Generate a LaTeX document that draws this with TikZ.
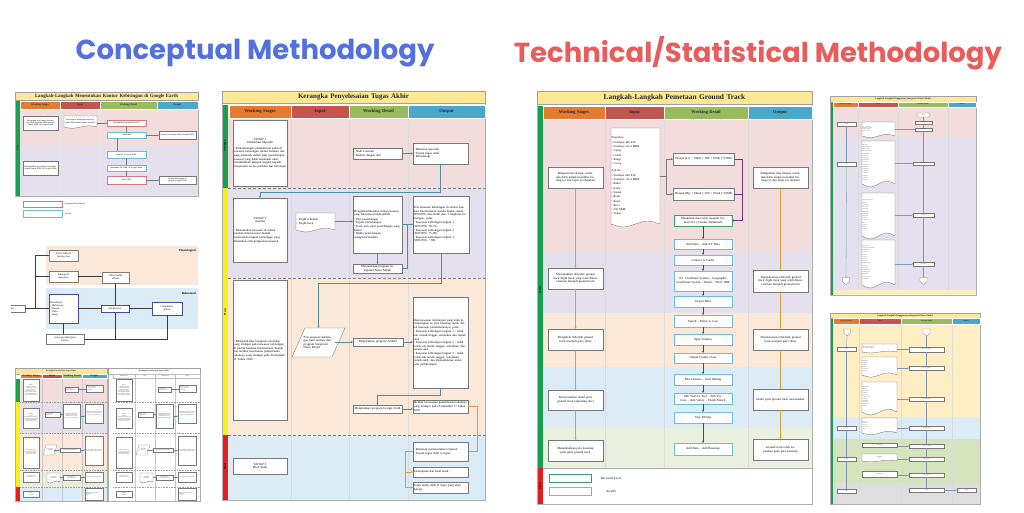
\documentclass[tikz,border=0pt]{standalone}
\usepackage{fontspec}
\setmainfont{Liberation Serif}
\newfontfamily\titlefont{Poppins}
\usetikzlibrary{arrows.meta,calc}
\definecolor{tblue}{RGB}{84,112,222}
\definecolor{tred}{RGB}{232,92,92}
\definecolor{hor}{RGB}{230,122,48}
\definecolor{hred}{RGB}{196,84,78}
\definecolor{hgreen}{RGB}{152,188,92}
\definecolor{hblue}{RGB}{74,168,200}
\definecolor{tbarc}{RGB}{254,232,150}
\definecolor{sgreen}{RGB}{24,160,82}
\definecolor{syellow}{RGB}{250,240,20}
\definecolor{sred}{RGB}{230,30,30}
\definecolor{bpink}{RGB}{243,221,220}
\definecolor{blav}{RGB}{228,224,238}
\definecolor{bpeach}{RGB}{252,232,216}
\definecolor{bblue}{RGB}{220,236,246}
\definecolor{bgreen}{RGB}{233,240,222}
\definecolor{bgreenb}{RGB}{214,228,190}
\definecolor{byellow}{RGB}{255,238,196}
\definecolor{bgray}{RGB}{222,222,222}
\definecolor{gline}{RGB}{120,120,120}
\definecolor{cyanb}{RGB}{110,190,210}
\definecolor{pinkb}{RGB}{214,120,130}
\definecolor{greenb}{RGB}{60,160,110}
\definecolor{oline}{RGB}{215,160,60}
\definecolor{tealline}{RGB}{80,140,160}
\definecolor{purline}{RGB}{120,50,120}
\definecolor{dblue}{RGB}{40,80,130}
\newcommand\hfont{}
\newcommand\szA{\fontsize{2.1}{2.4}\selectfont}
\newcommand\szB{\fontsize{2.6}{3}\selectfont}
\newcommand\szE{\fontsize{3.1}{3.6}\selectfont}
\newcommand\szF{\fontsize{3.1}{3.7}\selectfont}
\newcommand\szT{\fontsize{1.1}{1.3}\selectfont}
\tikzset{
 wb/.style={draw=gline,fill=white,line width=0.35pt,inner sep=0pt,outer sep=0pt,align=center},
 hdr/.style={draw=white,line width=0.3pt,inner sep=0pt,outer sep=0pt,align=center,text=black!85,font=\bfseries\hfont},
 tbar/.style={draw=gline!70,fill=tbarc,line width=0.3pt,inner sep=0pt,outer sep=0pt,align=center,text=black!85},
 arr/.style={-{Stealth[length=2.2pt,width=2pt]},line width=0.6pt},
 arrs/.style={-{Stealth[length=1.1pt,width=1.1pt]},line width=0.3pt},
 tl/.style={draw=tealline,line width=0.9pt},
 lab/.style={inner sep=0pt,outer sep=0pt},
}
\newcommand\bx[7]{%
 \pgfmathsetmacro\bxw{#4-#2}\pgfmathsetmacro\bxh{#5-#3}%
 \pgfmathsetmacro\bxcx{(#2+#4)/2}\pgfmathsetmacro\bxcy{(#3+#5)/2}%
 \pgfmathsetmacro\bxtw{max(#4-#2-1.4,0.5)}%
 \node[#6,minimum width=\bxw pt,minimum height=\bxh pt,text width=\bxtw pt] (#1) at (\bxcx,\bxcy) {#7};}
\newcommand\dbx[7]{%
 \pgfmathsetmacro\dw{#4-#2}\pgfmathsetmacro\dh{#5-#3}\pgfmathsetmacro\dmx{(#2+#4)/2}%
 \pgfmathsetmacro\da{min(2.5,0.1*\dh)}\pgfmathsetmacro\dq{0.25*\dw}%
 \filldraw[draw=gline,fill=white,line width=0.35pt] (#2,#3) -- (#4,#3) -- (#4,#5) .. controls +(-\dq,-1.6*\da) and +(\dq,-1.6*\da) .. (\dmx,#5) .. controls +(-\dq,1.6*\da) and +(\dq,1.6*\da) .. (#2,#5) -- cycle;
 \bx{#1}{#2}{#3}{#4}{#5}{wb,draw=none,fill=none,#6}{#7}}
\newcommand\hdrrow[8]{%
 \bx{#1h1}{#4}{#2}{#5}{#3}{hdr,fill=hor}{Working Stages}
 \bx{#1h2}{#5}{#2}{#6}{#3}{hdr,fill=hred}{Input}
 \bx{#1h3}{#6}{#2}{#7}{#3}{hdr,fill=hgreen}{Working Detail}
 \bx{#1h4}{#7}{#2}{#8}{#3}{hdr,fill=hblue}{Output}}
\newcommand\cA{bpink}\newcommand\cB{blav}\newcommand\cC{bpeach}\newcommand\cD{bgreen}\newcommand\cE{bblue}
\newcommand\hA{hor}\newcommand\hB{hred}\newcommand\hC{hgreen}\newcommand\hD{hblue}\newcommand\hdd{white}
\newcommand\sA{sgreen}\newcommand\sB{syellow}\newcommand\sC{sred}\newcommand\tA{tbarc}
\newcommand\miniK[2]{%
\begin{scope}[xshift=#1]
\fill[\cA] (20,378.5) rectangle (107,402);
\fill[\cB] (20,402) rectangle (107,433);
\fill[\cC] (20,433) rectangle (107,470);
\fill[\cD] (20,470) rectangle (107,487);
\fill[\cE] (20,487) rectangle (107,501);
\foreach \x in {42,62,82} \draw[gline!40,line width=0.25pt] (\x,378.5) -- (\x,501);
\foreach \y in {402,433,470,487} \draw[gline!70,line width=0.3pt,dash pattern=on 1pt off 0.6pt] (20,\y) -- (107,\y);
\fill[\sA] (15,378.5) rectangle (20,402);
\fill[\sB] (15,402) rectangle (20,487);
\fill[\sC] (15,487) rectangle (20,501);
\draw[gline!60,line width=0.3pt] (15,368) rectangle (107,501);
\bx{#2T}{15}{368}{107}{374}{tbar,fill=\tA,font=\bfseries\fontsize{1.9}{2.1}\selectfont}{Kerangka Penyelesaian Tugas Akhir}
\bx{#2h1}{20}{374}{42}{378.5}{hdr,draw=\hdd,fill=\hA}{Working Stages}
\bx{#2h2}{42}{374}{62}{378.5}{hdr,draw=\hdd,fill=\hB}{Input}
\bx{#2h3}{62}{374}{82}{378.5}{hdr,draw=\hdd,fill=\hC}{Working Detail}
\bx{#2h4}{82}{374}{107}{378.5}{hdr,draw=\hdd,fill=\hD}{Output}
\bx{#2S1}{23}{379.5}{39}{401}{wb,line width=0.2pt,font=\szT}{TAHAP 1\\Identifikasi Masalah\\[0.5pt]• Perkembangan permukiman padat di kawasan kebisingan sekitar bandara yang tidak terkendali akan menimbulkan dampak negatif kepada masyarakat}
\bx{#2W1}{65}{387}{78}{392}{wb,line width=0.2pt,font=\szT,align=left}{• Studi Literatur\\• Diskusi dengan ahli}
\bx{#2O1}{86}{385}{103}{392}{wb,line width=0.2pt,font=\szT,align=left}{• Rumusan masalah\\• Tujuan tugas akhir\\• Metodologi}
\bx{#2S2}{23}{408}{39}{428}{wb,line width=0.2pt,font=\szT}{TAHAP 2\\Analisis\\[0.5pt]• Menentukan kawasan di sekitar bandara berdasarkan tingkat kebisingan yang dihasilkan oleh pergerakan pesawat}
\dbx{#2I1}{45}{412}{60}{417}{font=\szT,align=left}{• Flight schedule\\• Flight track}
\bx{#2W2}{63}{404}{80}{428}{wb,line width=0.2pt,font=\szT}{Mengidentifikasikan setiap pesawat yang beroperasi berdasarkan tipe, tujuan, track dan waktu penerbangan}
\bx{#2O2}{85}{404}{103}{423}{wb,line width=0.2pt,font=\szT}{Peta kawasan kebisingan di sekitar bandara dalam satuan WECPNL dengan 3 tingkatan kebisingan}
\bx{#2S3}{23}{437}{39}{468}{wb,line width=0.2pt,font=\szT}{• Mengolah data bangunan eksisting yang terdapat pada kawasan kebisingan di sekitar bandara}
\filldraw[draw=gline,fill=white,line width=0.2pt] (46,445) -- (57,445) -- (54,455) -- (43,455) -- cycle;
\bx{#2P}{46}{446}{54}{454}{lab,font=\szT,align=center}{Peta kawasan kebisingan}
\bx{#2W4}{60}{448}{80}{452}{wb,line width=0.2pt,font=\szT}{Menjalankan program ArcGIS}
\bx{#2O3}{85}{436}{103}{465}{wb,line width=0.2pt,font=\szT}{Data kawasan kebisingan yang telah ditumpangkan ke peta basemap}
\bx{#2S4}{23}{472}{39}{482}{wb,line width=0.2pt,font=\szT}{• Melihat kesesuaian pemanfaatan lahan}
\dbx{#2W5}{47}{473}{60}{482}{font=\szT}{Permenhub 11 Tahun 2010}
\bx{#2W6}{63}{475}{80}{480}{wb,line width=0.2pt,font=\szT}{Menjalankan program Google Earth}
\bx{#2O4}{85}{472}{103}{482}{wb,line width=0.2pt,font=\szT}{Kesesuaian pemanfaatan lahan}
\bx{#2S5}{23}{491}{39}{497}{wb,line width=0.2pt,font=\szT}{TAHAP 3\\Hasil Studi}
\bx{#2O5}{85}{488}{103}{500}{wb,line width=0.2pt,font=\szT,align=left}{• Rumusan masalah terjawab\\• Kesimpulan\\• Saran}
\draw[arrs,tealline] (#2W1.east) -- (#2W1.east -| #2O1.west);
\draw[arrs,tealline] (#2I1.east) -- (#2I1.east -| #2W2.west);
\draw[arrs,tealline] (#2W2.east) -- (#2W2.east -| #2O2.west);
\draw[arrs,tealline] (#2P.east) -- (#2W4.west);
\draw[arrs,tealline] (#2W4.east) -- (#2W4.east -| #2O3.west);
\draw[arrs,tealline] (#2W5.east |- #2W6) -- (#2W6.west);
\draw[arrs,tealline] (#2W6.east) -- (#2W6.east -| #2O4.west);
\end{scope}}
\begin{document}
\begin{tikzpicture}[x=1pt,y=-1pt]
\useasboundingbox (0,0) rectangle (1024,512);
\fill[white] (0,0) rectangle (1024,512);
% ===== titles =====
\node[lab,font=\titlefont\bfseries\fontsize{27.5}{31}\selectfont,text=tblue] (t1) at (255,53) {Conceptual Methodology};
\node[lab,font=\titlefont\bfseries\fontsize{27.5}{31}\selectfont,text=tred] (t2) at (758,53) {Technical/Statistical Methodology};
% ===== A =====
\fill[bpink] (20,109) rectangle (198,146);
\fill[blav] (20,146) rectangle (198,196);
\foreach \x in {60,100,157} \draw[white!80!gray,line width=0.3pt] (\x,109) -- (\x,196);
\fill[sgreen] (15,101) rectangle (20,196);
\draw[gline!60,line width=0.3pt] (15,92) rectangle (198,196);
\renewcommand\hfont{\fontsize{2.6}{3}\selectfont}
\bx{aT}{15}{92}{198}{100}{tbar,font=\bfseries\fontsize{4.8}{5.2}\selectfont}{Langkah-Langkah Menentukan Kontur Kebisingan di Google Earth}
\hdrrow{a}{101}{109}{20}{60}{100}{157}{198}
\node[lab,rotate=90,font=\bfseries\fontsize{1.8}{2}\selectfont] (aP) at (17.5,148) {Proses};
\bx{aS1}{23}{116}{58}{130}{wb,font=\szA}{Mengubah peta kontur kebisingan hasil program INM menjadi format KML di Google Earth}
\dbx{aI1}{64}{116}{97}{127}{font=\szA}{Peta kontur kebisingan hasil program INM dalam format shapefile}
\bx{aW1}{107}{120}{146}{126}{wb,draw=pinkb,font=\szA}{Menjalankan program ArcGIS}
\bx{aW2}{107}{132}{146}{138}{wb,draw=cyanb,font=\szA}{Add Data}
\bx{aO1}{159}{131}{196}{139}{wb,font=\szA}{Kontur kebisingan dalam format KML}
\bx{aW3}{107}{151}{146}{158}{wb,draw=cyanb,font=\szA}{Search – Layer to KML}
\bx{aS2}{23}{161}{58}{175}{wb,font=\szA}{Menampilkan peta kontur kebisingan dalam format KML di Google Earth}
\bx{aW4}{107}{165}{146}{171}{wb,draw=cyanb,font=\szA}{Membuka file KML di Google Earth}
\bx{aW5}{107}{176}{146}{184}{wb,draw=pinkb,font=\szA}{Save KML}
\bx{aO2}{159}{176}{196}{184}{wb,font=\szA}{Kontur kebisingan di wilayah Google Earth}
\draw[arrs,gline] (aI1.east |- aW1) -- (aW1.west);
\draw[arrs,gline] (aW1.south) -- (aW2.north);
\draw[arrs,gline] (aW2.east) -- (aW2.east -| aO1.west);
\draw[arrs,gline] ([xshift=-9pt]aW2.south) -- ([xshift=-9pt]aW3.north);
\draw[arrs,gline] (aW3.south) -- (aW4.north);
\draw[arrs,gline] (aW4.south) -- (aW5.north);
\draw[arrs,gline] (aW5.east) -- (aO2.west);
\bx{aL1}{23}{201}{62}{207}{wb,draw=pinkb}{}
\node[lab,anchor=west,font=\szA] (aLt1) at (65,204) {Integrated Noise Model};
\bx{aL2}{23}{210}{62}{217}{wb,draw=cyanb}{}
\node[lab,anchor=west,font=\szA] (aLt2) at (65,213.5) {ArcGIS};
% ===== B =====
\fill[bpeach] (46,246) rectangle (198,285);
\fill[bblue] (46,288) rectangle (198,329);
\node[lab,anchor=east,font=\bfseries\fontsize{3}{3.4}\selectfont] (bPh) at (196,251) {Physiological};
\node[lab,anchor=east,font=\bfseries\fontsize{3}{3.4}\selectfont] (bBe) at (196,293) {Behavioral};
\begin{scope}
\clip (11,300) rectangle (30,316);
\bx{bN}{-2}{305}{25}{312}{wb,font=\szB}{Noise}
\end{scope}
\bx{bH}{49}{250}{78}{261}{wb,draw=gline!80!brown,font=\szB}{Noise induced\\hearing loss}
\bx{bB}{49}{271}{78}{282}{wb,draw=gline!80!brown,font=\szB}{Biological\\responses}
\bx{bO}{102}{272}{129}{283}{wb,draw=gline!80!brown,font=\szB}{Other health\\effects}
\bx{bD}{49}{294}{78}{323}{wb,draw=gline!60!blue,font=\szB,align=left}{Disturbance:\\– Distraction\\– Speech\\– Tasks\\– Sleep}
\bx{bI}{101}{305}{129}{312}{wb,draw=gline!60!blue,font=\szB}{Interference}
\bx{bC}{152}{302}{182}{315}{wb,draw=gline!60!blue,font=\szB}{Complaints/\\Action}
\bx{bS}{46}{334}{84}{344}{wb,font=\szB}{Socio-psychological\\factors}
\coordinate (bj) at (35,308.5);
\draw[line width=0.4pt,gline!50!black] (bN.east) -- (bj);
\draw[arrs,gline!50!black,line width=0.4pt] (bj) |- (bH.west);
\draw[arrs,gline!50!black,line width=0.4pt] (bj) |- (bB.west);
\draw[arrs,gline!50!black,line width=0.4pt] (bj) -- (bD.west);
\draw[arrs,gline!50!black,line width=0.4pt] (bB.east) -- (bB.east -| bO.west);
\draw[arrs,gline!50!black,line width=0.4pt] (bD.east |- bI) -- (bI.west);
\draw[arrs,gline!50!black,line width=0.4pt] (bI.east) -- (bI.east -| bC.west);
\draw[arrs,gline!50!black,line width=0.4pt] (bI.north) -- (bI.north |- bO.south);
\draw[arrs,gline!50!black,line width=0.4pt] (bS.north -| bD) -- (bD.south);
\draw[arrs,gline!50!black,line width=0.4pt] (bS.east) -| (bC.south);
\draw[arrs,gline!50!black,line width=0.4pt] (bS.east -| bI) -- (bI.south);
% ===== C and D =====
\miniK{0}{c}
\renewcommand\cA{white}\renewcommand\cB{white}\renewcommand\cC{white}\renewcommand\cD{white}\renewcommand\cE{white}
\renewcommand\hA{white}\renewcommand\hB{white}\renewcommand\hC{white}\renewcommand\hD{white}\renewcommand\hdd{gline!50}
\renewcommand\sA{white}\renewcommand\sB{white}\renewcommand\sC{white}\renewcommand\tA{white}
\renewcommand\hfont{\fontsize{1.1}{1.3}\selectfont}
\miniK{93}{d}
% ===== E =====
\fill[bpink] (228,118) rectangle (485,188);
\fill[blav] (228,188) rectangle (485,278);
\fill[bpeach] (228,278) rectangle (485,435);
\fill[bblue] (228,435) rectangle (485,500);
\foreach \x in {291,349,408} \draw[white!72!gray,line width=0.4pt] (\x,118) -- (\x,500);
\foreach \y in {188,278,435} \draw[gray,line width=0.9pt,dash pattern=on 3pt off 2pt] (228,\y) -- (485,\y);
\fill[sgreen] (222,105) rectangle (228,188);
\fill[syellow] (222,188) rectangle (228,435);
\fill[sred] (222,435) rectangle (228,500);
\draw[gline!60,line width=0.3pt] (222,91) rectangle (485,500);
\renewcommand\hfont{\fontsize{4.6}{5}\selectfont}
\bx{eT}{222}{91}{485}{103}{tbar,font=\bfseries\fontsize{7}{8}\selectfont}{Kerangka Penyelesaian Tugas Akhir}
\hdrrow{e}{105}{118}{229}{291}{349}{408}{485}
\node[lab,rotate=90,font=\bfseries\fontsize{2.6}{3}\selectfont] (eP1) at (225,146) {Persiapan};
\node[lab,rotate=90,font=\bfseries\fontsize{2.6}{3}\selectfont] (eP2) at (225,312) {Proses};
\node[lab,rotate=90,font=\bfseries\fontsize{2.6}{3}\selectfont] (eP3) at (225,467) {Hasil};
\bx{eS1}{233}{120}{287}{186}{wb,font=\szE}{TAHAP 1\\Identifikasi Masalah\\[2pt]{\raggedright • Perkembangan permukiman padat di kawasan kebisingan sekitar bandara dan yang termasuk dalam jalur penerbangan pesawat yang tidak terkendali akan menimbulkan dampak negatif kepada masyarakat secara perilaku dan fisiologis\par}}
\bx{eW1}{353}{148}{402}{159}{wb,font=\szE,align=left}{• Studi Literatur\\• Diskusi dengan ahli}
\bx{eO1}{413}{143}{468}{164}{wb,font=\szE,align=left}{• Rumusan masalah\\• Tujuan tugas akhir\\• Metodologi}
\bx{eS2}{233}{198}{287}{262}{wb,font=\szE}{TAHAP 2\\Analisis\\[5pt]{\raggedright • Menentukan kawasan di sekitar bandara Internasional Juanda berdasarkan tingkat kebisingan yang dihasilkan oleh pergerakan pesawat\par}}
\dbx{eI1}{296}{213}{335}{230}{font=\szE,align=left}{• Flight schedule\\• Flight track}
\bx{eW2}{353}{196}{402}{253}{wb,font=\szE,align=left}{Mengidentifikasikan setiap pesawat yang beroperasi berdasarkan:\\[1pt]• Tipe penerbangan\\• Tujuan penerbangan\\• Track atau jalur penerbangan yang dilalui\\• Waktu penerbangan (siang/sore/malam)}
\bx{eO2}{413}{196}{469}{253}{wb,font=\szE,align=left}{Peta kawasan kebisingan di sekitar bandara Internasional Juanda dalam satuan WECPNL dan terdiri dari 3 tingkatan kebisingan, yaitu:\\[1pt]• Kawasan kebisingan tingkat 1 (WECPNL 70–75)\\• Kawasan kebisingan tingkat 2 (WECPNL 75–80)\\• Kawasan kebisingan tingkat 3 (WECPNL > 80)}
\bx{eW3}{353}{264}{402}{273}{wb,font=\szE}{Menjalankan program Integrated Noise Model}
\bx{eS3}{233}{280}{287}{420}{wb,font=\szE}{{\raggedright • Mengolah data bangunan eksisting yang terdapat pada kawasan kebisingan di sekitar bandara Internasional Juanda dan melihat kesesuaian pemanfaatan lahannya yang terdapat pada Permenhub 11 Tahun 2010\par}\vspace{40pt}}
\filldraw[draw=gline,fill=white,line width=0.35pt] (305,328) -- (345,328) -- (332,357) -- (292,357) -- cycle;
\bx{ePara}{303}{330}{335}{355}{lab,font=\szE,align=left}{Peta kawasan kebisingan hasil analisis dari program Integrated Noise Model}
\bx{eW4}{353}{338}{403}{346}{wb,font=\szE}{Menjalankan program ArcGIS}
\bx{eO3}{413}{297}{468}{388}{wb,font=\szE,align=left}{Data kawasan kebisingan yang telah ditumpangkan ke peta basemap untuk dilihat kawasan permukimannya, yaitu:\\[1pt]• Kawasan kebisingan tingkat 1 : lebih dari rumah tinggal, sekolahan dan rumah sakit\\• Kawasan kebisingan tingkat 2 : tidak boleh ada rumah tinggal, sekolahan, dan rumah sakit\\• Kawasan kebisingan tingkat 3 : tidak boleh ada rumah tinggal, sekolahan, rumah sakit, dan diperuntukkan untuk jalur perhubungan}
\bx{eW5}{353}{405}{402}{413}{wb,font=\szE}{Menjalankan program Google Earth}
\bx{eO4}{413}{400}{468}{413}{wb,font=\szE,align=left}{Melihat kesesuaian pemanfaatan lahannya yang terdapat pada Permenhub 11 Tahun 2010}
\bx{eS4}{233}{458}{287}{474}{wb,font=\szE}{TAHAP 3\\Hasil Studi}
\bx{eO5}{413}{442}{468}{461}{wb,font=\szE,align=left}{• Rumusan permasalahan terjawab\\• Tujuan tugas akhir tercapai}
\bx{eO6}{413}{467}{468}{477}{wb,font=\szE,align=left}{Kesimpulan dari hasil studi}
\bx{eO7}{413}{482}{468}{493}{wb,font=\szE,align=left}{Saran untuk studi di masa yang akan datang}
\draw[tl,arr] (eW1.east) -- (eW1.east -| eO1.west);
\draw[tl,arr] (eO1.south) -- ++(0,28) -| (eS2.north);
\draw[tl,arr] (eI1.east) -- (eI1.east -| eW2.west);
\draw[tl,arr] (eW2.east) -- (eW2.east -| eO2.west);
\draw[tl] (eW3.east) -| (407,224.5);
\draw[tl,arr] (eW2.south) -- (eW3.north);
\draw[tl,arr] (eO2.south) -- ++(0,30) -| (318.5,328);
\draw[tl,arr] (ePara.east |- eW4) -- (eW4.west);
\draw[tl,arr] (eW4.east) -- (eW4.east -| eO3.west);
\draw[tl,arr] (eO3.south) -- ++(0,7) -| (eW5.north);
\draw[tl,arr] (eW5.east) -- (eW5.east -| eO4.west);
\draw[arr,oline,line width=0.9pt] (eO4.east) -- ++(9,0) |- (eO5.east);
\draw[arr,oline,line width=0.7pt] (eO5.west) -- ++(-8,0) |- (eO6.west);
\draw[arr,oline,line width=0.7pt] (eO5.west) -- ++(-8,0) |- (eO7.west);
% ===== F =====
\fill[bpink] (543,119) rectangle (812,252);
\fill[blav] (543,252) rectangle (812,313);
\fill[bpeach] (543,313) rectangle (812,367);
\fill[bblue] (543,367) rectangle (812,428);
\fill[bgreen] (543,428) rectangle (812,468);
\foreach \x in {605,664,748} \draw[white!72!gray,line width=0.4pt] (\x,119) -- (\x,468);
\draw[gline!60,line width=0.3pt] (543,468) -- (812,468);
\fill[sgreen] (537,106) rectangle (543,468);
\fill[sred] (537,468) rectangle (543,504);
\draw[gline!60,line width=0.3pt] (537,91) rectangle (812,504);
\renewcommand\hfont{\fontsize{4.4}{5}\selectfont}
\bx{fT}{537}{91}{812}{104}{tbar,font=\bfseries\fontsize{7.4}{8}\selectfont}{Langkah-Langkah Pemetaan Ground Track}
\hdrrow{f}{106}{119}{543}{605}{664}{748}{812}
\node[lab,rotate=90,font=\bfseries\fontsize{2.8}{3}\selectfont] (fP1) at (540,290) {Proses};
\node[lab,rotate=90,font=\bfseries\fontsize{2.8}{3}\selectfont] (fP2) at (540,486) {Tools};
\bx{fS1}{548}{167}{603}{188}{wb,font=\szF}{Mengonversi derajat, menit, dan detik dalam koordinat lintang (y) dan bujur (x) Bandara}
\dbx{fI}{611}{128}{660}{224}{font=\fontsize{2.9}{4.3}\selectfont,align=left}{Departure:\\• Surabaya 400 ICB\\• Surabaya 112,4 MHR\\• Ujung\\• Cendo\\• Bango\\• Cocoa\\[3pt]Arrival:\\• Surabaya 400 ICB\\• Surabaya 112,4 MHR\\• Rahul\\• Kolla\\• Kodak\\• Rolin\\• Bojoi\\• Ricci\\• 030 MHR\\• Vokus}
\bx{fF1}{673}{153}{734}{165}{wb,font=\szF}{Derajat (Lt) + Menit (')/60 + Detik ('')/3600}
\bx{fF2}{673}{188}{734}{200}{wb,font=\szF}{Derajat (Bj) + Menit (')/60 + Detik ('')/3600}
\bx{fG}{674}{215}{732}{226}{wb,draw=greenb,line width=0.6pt,font=\szF}{Mengubah data excel menjadi format CSV (Comma Delimited)}
\bx{fO1}{753}{167}{808}{188}{wb,font=\szF}{Didapatkan data derajat, menit, dan detik dalam koordinat lintang (y) dan bujur (x) desimal}
\bx{fW1}{674}{239}{732}{249}{wb,draw=cyanb,line width=0.6pt,font=\szF}{Add Data – Add XY Data}
\bx{fW2}{674}{255}{732}{265}{wb,draw=cyanb,line width=0.6pt,font=\szF}{Connect to Folder}
\bx{fW3}{674}{271}{732}{291}{wb,draw=cyanb,line width=0.6pt,font=\szF}{XY Coordinate System – Geographic Coordinate System – World – WGS 1984}
\bx{fW4}{674}{296}{732}{307}{wb,draw=cyanb,line width=0.6pt,font=\szF}{Export Data}
\bx{fW5}{674}{315}{732}{327}{wb,draw=cyanb,line width=0.6pt,font=\szF}{Search – Points to Line}
\bx{fW6}{674}{334}{732}{345}{wb,draw=cyanb,line width=0.6pt,font=\szF}{Input Features}
\bx{fW7}{674}{353}{732}{363}{wb,draw=cyanb,line width=0.6pt,font=\szF}{Output Feature Class}
\bx{fW8}{674}{374}{732}{385}{wb,draw=cyanb,line width=0.6pt,font=\szF}{Edit Features – Start Editing}
\bx{fW9}{674}{393}{732}{404}{wb,draw=cyanb,line width=0.6pt,font=\szF}{Edit Vertices Tool – Edit Vertices – Add Vertex – Finish Sketch}
\bx{fW10}{674}{412}{732}{423}{wb,draw=cyanb,line width=0.6pt,font=\szF}{Stop Editing}
\bx{fW11}{674}{443}{732}{455}{wb,draw=cyanb,line width=0.6pt,font=\szF}{Add Data – Add Basemap}
\bx{fS2}{548}{268}{603}{289}{wb,font=\szF}{Memasukkan titik-titik ground track flight track yang telah dikonversikan menjadi ground track}
\bx{fS3}{548}{329}{603}{350}{wb,font=\szF}{Mengubah titik-titik ground track menjadi garis (line)}
\bx{fS4}{548}{390}{603}{410}{wb,font=\szF}{Menyesuaikan detail garis ground track (adjusting line)}
\bx{fS5}{548}{440}{603}{461}{wb,font=\szF}{Menambahkan peta basemap pada garis ground track}
\bx{fO2}{753}{270}{808}{292}{wb,font=\szF}{Terpetakannya titik-titik ground track flight track yang telah dikonversikan menjadi ground track}
\bx{fO3}{753}{329}{808}{350}{wb,font=\szF}{Terpetakannya titik-titik ground track menjadi garis (line)}
\bx{fO4}{753}{389}{808}{410}{wb,font=\szF}{Detail garis ground track tersesuaikan}
\bx{fO5}{753}{439}{808}{460}{wb,font=\szF}{Ground track telah terpetakan pada peta basemap}
\bx{fL1}{549}{474}{591}{482}{wb,draw=greenb,line width=0.6pt}{}
\bx{fL2}{549}{487}{591}{495}{wb,draw=cyanb,line width=0.6pt}{}
\node[lab,font=\szF] (fLt1) at (611,478) {Microsoft Excel};
\node[lab,font=\szF] (fLt2) at (611,491) {ArcGIS};
\coordinate (fj) at (666,176);
\draw[line width=0.6pt,gline] (fI.east |- fj) -- (fj);
\draw[arr,gline] (fj) |- (fF1.west);
\draw[arr,gline] (fj) |- (fF2.west);
\draw[arr,purline,line width=0.8pt] (fF1.east) -| (742,220.5) -- (fG.east);
\draw[purline,line width=0.8pt] (fF2.east) -- (742,194);
\foreach \a/\b in {fG/fW1,fW1/fW2,fW2/fW3,fW3/fW4,fW4/fW5,fW5/fW6,fW6/fW7,fW7/fW8,fW8/fW9,fW9/fW10,fW10/fW11}
  \draw[arr,dblue,line width=0.8pt] (\a.south) -- (\b.north);
\foreach \a/\b in {fS1/fS2,fS2/fS3,fS3/fS4,fS4/fS5,fO1/fO2,fO2/fO3,fO3/fO4,fO4/fO5}
  \draw[arr,oline,line width=0.7pt] (\a.south) -- (\b.north);
% ===== G =====
\fill[bpink] (833,107) rectangle (976,138);
\fill[blav] (833,138) rectangle (976,290);
\fill[byellow] (833,290) rectangle (976,295);
\foreach \x in {858,898,948} \draw[white!72!gray,line width=0.25pt] (\x,107) -- (\x,290);
\fill[sgreen] (830,102) rectangle (833,295);
\draw[gline!60,line width=0.3pt] (830,96) rectangle (976,295);
\renewcommand\hfont{\fontsize{1.7}{2}\selectfont}
\bx{gT}{830}{96}{976}{102}{tbar,font=\bfseries\fontsize{2.3}{2.6}\selectfont}{Langkah-Langkah Penggunaan Integrated Noise Model}
\hdrrow{g}{102}{107}{833}{858}{898}{948}{976}
\bx{gS1}{837}{122}{856}{126}{wb,line width=0.2pt,font=\szT}{Persiapan}
\bx{gS2}{837}{162}{856}{166}{wb,line width=0.2pt,font=\szT}{Input}
\bx{gTm}{917}{113}{930}{117}{wb,line width=0.2pt,rounded corners=1.5pt,font=\szT}{Mulai}
\bx{gW1}{915}{121}{932}{124}{wb,line width=0.2pt,font=\szT}{Open INM}
\bx{gW2}{915}{128}{932}{131}{wb,line width=0.2pt,font=\szT}{New Study}
\dbx{gI1}{862}{122}{895}{136}{font=\szT,align=left}{File – New Study\\Study Name: Juanda\\Airport: WARR\\Runway: 10/28}
\dbx{gI2}{862}{141}{895}{184}{font=\fontsize{1.1}{2.2}\selectfont,align=left}{Input Track:\\• Departure track\\• Arrival track\\• Track SBR 400\\• Track SBR 112\\• Track UJG\\• Track CND\\• Track BGO\\• Track CCA\\• Track RHL\\• Track KLA\\• Track KDK\\• Track RLN\\• Track BJI\\• Track RCI\\• Track VKS\\• Track 030}
\bx{gW3}{913}{162}{934}{165}{wb,line width=0.2pt,font=\szT}{Input Track}
\dbx{gI3}{862}{193}{895}{236}{font=\fontsize{1.1}{2.2}\selectfont,align=left}{Input Flight Operation:\\[1pt]Aircraft:\\• A320-200\\• B737-800\\• B737-900\\• B737-500\\• A330-300\\• B777-300\\• ATR 72\\• CRJ 1000\\• Day\\• Evening\\• Night\\• Total}
\bx{gW4}{913}{213}{934}{217}{wb,line width=0.2pt,font=\szT}{Input Flight}
\dbx{gI4}{862}{240}{895}{285}{font=\fontsize{1.1}{2.2}\selectfont,align=left}{Run Options:\\• Noise metric WECPNL\\• Grid contour\\• Level 70\\• Level 75\\• Level 80\\• Level 85\\• Level 90\\• Output graphics\\• Contour area\\• Population\\• Location points\\• Standard grid\\• Save study\\• Export shapefile\\• Close INM}
\bx{gW5}{913}{262}{934}{266}{wb,line width=0.2pt,font=\szT}{Run Contour}
\coordinate (gC1) at (846,277.5);
\coordinate (gC2) at (923.5,277.5);
\filldraw[draw=gline,fill=white,line width=0.25pt] (gC1) ++(-3.5,0) -- ++(7,0) -- ++(0,4) -- ++(-3.5,3) -- ++(-3.5,-3) -- cycle;
\filldraw[draw=gline,fill=white,line width=0.25pt] (gC2) ++(-3.5,0) -- ++(7,0) -- ++(0,4) -- ++(-3.5,3) -- ++(-3.5,-3) -- cycle;
\draw[arrs,dblue!60] (gS1.south) -- (gS2.north);
\draw[arrs,dblue!60] (gS2.south) -- (gC1);
\draw[arrs,dblue!60] (gTm.south) -- (gW1.north);
\draw[arrs,dblue!60] (gW1.south) -- (gW2.north);
\draw[arrs,dblue!60] (gW2.south) -- (gW3.north);
\draw[arrs,dblue!60] (gW3.south) -- (gW4.north);
\draw[arrs,dblue!60] (gW4.south) -- (gW5.north);
\draw[arrs,dblue!60] (gW5.south) -- (gC2);
\draw[arrs,dblue!60] (gI1.east |- gW2) -- (gW2.west);
\draw[arrs,dblue!60] (gI2.east |- gW3) -- (gW3.west);
\draw[arrs,dblue!60] (gI3.east |- gW4) -- (gW4.west);
\draw[arrs,dblue!60] (gI4.east |- gW5) -- (gW5.west);
% ===== H =====
\fill[byellow] (833,324) rectangle (980,417);
\fill[bblue] (833,417) rectangle (980,439);
\fill[bgreenb] (833,439) rectangle (980,483);
\fill[bgray] (833,483) rectangle (980,504);
\foreach \x in {859,901,952} \draw[white!72!gray,line width=0.25pt] (\x,324) -- (\x,504);
\fill[sgreen] (830,318) rectangle (833,504);
\draw[gline!60,line width=0.3pt] (830,313) rectangle (980,504);
\renewcommand\hfont{\fontsize{1.7}{2}\selectfont}
\bx{hT}{830}{313}{980}{318}{tbar,font=\bfseries\fontsize{2.3}{2.6}\selectfont}{Langkah-Langkah Penggunaan Integrated Noise Model}
\hdrrow{h}{318}{324}{833}{859}{901}{952}{980}
\coordinate (hC1) at (847,336);
\coordinate (hC2) at (926.5,336);
\filldraw[draw=gline,fill=white,line width=0.25pt] (hC1) ++(-3.5,-7) -- ++(7,0) -- ++(0,4) -- ++(-3.5,3) -- ++(-3.5,-3) -- cycle;
\filldraw[draw=gline,fill=white,line width=0.25pt] (hC2) ++(-3.5,-7) -- ++(7,0) -- ++(0,4) -- ++(-3.5,3) -- ++(-3.5,-3) -- cycle;
\bx{hS1}{837}{347}{856}{351}{wb,line width=0.2pt,font=\szT}{Input}
\bx{hS2}{837}{426}{856}{430}{wb,line width=0.2pt,font=\szT}{Proses}
\bx{hS3}{837}{457}{856}{461}{wb,line width=0.2pt,font=\szT}{Output}
\bx{hS4}{837}{489}{856}{493}{wb,line width=0.2pt,font=\szT}{Selesai}
\dbx{hI1}{862}{344}{897}{352}{font=\szT,align=left}{Noise Metric: WECPNL\\Day / Evening / Night}
\dbx{hI2}{862}{357}{897}{375}{font=\fontsize{1.1}{1.9}\selectfont,align=left}{Grid Setup:\\• Standard\\• Contour\\• Location\\• Population\\• Detailed}
\dbx{hI3}{862}{382}{897}{412}{font=\fontsize{1.1}{1.9}\selectfont,align=left}{Run Options:\\• Run type\\• Noise metric\\• Compute\\• Do terrain\\• Contour levels\\• Tolerance\\• Refinement\\• Low cutoff\\• High cutoff\\• Output}
\dbx{hI4}{862}{418}{897}{433}{font=\fontsize{1.1}{1.9}\selectfont,align=left}{Run Start:\\• Select case\\• Start run\\• Run status\\• Done}
\dbx{hI5}{862}{443}{897}{447}{font=\szT}{Output graphics}
\dbx{hI6}{862}{454}{897}{461}{font=\szT}{Plot contour\\Setup}
\dbx{hI7}{862}{471}{897}{477}{font=\szT}{Export shapefile}
\bx{hW1}{909}{347}{944}{352}{wb,line width=0.2pt,font=\szT}{Input – Noise Metric}
\bx{hW2}{909}{366}{944}{370}{wb,line width=0.2pt,font=\szT}{Run – Run Setup}
\bx{hW3}{909}{397}{944}{401}{wb,line width=0.2pt,font=\szT}{Run – Run Options}
\bx{hW4}{909}{426}{944}{430}{wb,line width=0.2pt,font=\szT}{Run – Run Start}
\bx{hW5}{909}{444}{944}{448}{wb,line width=0.2pt,font=\szT}{Output – Graphics}
\bx{hW6}{909}{457}{944}{461}{wb,line width=0.2pt,font=\szT}{Output – Plot}
\bx{hW7}{909}{473}{944}{477}{wb,line width=0.2pt,font=\szT}{File – Export}
\bx{hW8}{909}{488}{944}{492}{wb,line width=0.2pt,font=\szT}{Selesai}
\bx{hO}{957}{488}{976}{492}{wb,line width=0.2pt,font=\szT}{Kontur}
\draw[arrs,dblue!60] (hC1) -- (hS1.north);
\draw[arrs,dblue!60] (hS1.south) -- (hS2.north);
\draw[arrs,dblue!60] (hS2.south) -- (hS3.north);
\draw[arrs,dblue!60] (hS3.south) -- (hS4.north);
\draw[arrs,dblue!60] (hC2) -- (hW1.north);
\foreach \a/\b in {hW1/hW2,hW2/hW3,hW3/hW4,hW4/hW5,hW5/hW6,hW6/hW7,hW7/hW8}
  \draw[arrs,dblue!60] (\a.south) -- (\b.north);
\foreach \a/\b in {hI1/hW1,hI2/hW2,hI3/hW3,hI4/hW4,hI5/hW5,hI6/hW6,hI7/hW7}
  \draw[arrs,dblue!60] (\a.east |- \b) -- (\b.west);
\draw[arrs,dblue!60] (hW8.east) -- (hO.west);
\end{tikzpicture}
\end{document}
